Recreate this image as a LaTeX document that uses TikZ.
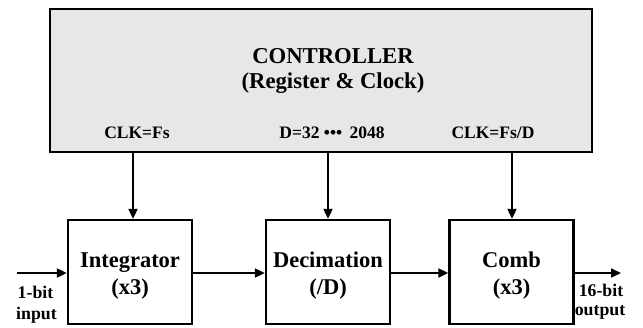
\documentclass[tikz,border=0pt]{standalone}
\usepackage{fontspec}
\setmainfont{Liberation Serif}
\usetikzlibrary{arrows.meta}
\definecolor{ctrlgray}{HTML}{E7E7E7}
\begin{document}
\begin{tikzpicture}[x=1pt,y=-1pt,
  font=\bfseries,
  blockbox/.style={draw,line width=2.3pt,minimum width=124pt,minimum height=104pt,inner sep=0pt},
  blocktext/.style={anchor=base,inner sep=0pt,font=\bfseries\fontsize{22.5}{28}\selectfont},
  ctrltext/.style={anchor=base,inner sep=0pt,font=\bfseries\fontsize{22.7}{27}\selectfont},
  sigtext/.style={anchor=base,inner sep=0pt,font=\bfseries\fontsize{17.5}{20}\selectfont},
  iotext/.style={anchor=base,inner sep=0pt,font=\bfseries\fontsize{17.8}{20}\selectfont},
  flow/.style={line width=1.9pt,-{Triangle[length=10pt,width=9pt]}}]
  \useasboundingbox (0,0) rectangle (643,327);

  % controller block
  \node[draw,fill=ctrlgray,line width=2.3pt,minimum width=542pt,minimum height=143pt,inner sep=0pt]
    (ctrl) at (321,80.5) {};
  \node[ctrltext] (ctrltitle) at (333,63) {CONTROLLER};
  \node[ctrltext] (ctrlsub) at (333,88) {(Register \& Clock)};
  \node[sigtext] (clkfs) at (137,138) {CLK=Fs};
  \node[sigtext] (dval) at (332,138) {D=32 ••• \,2048};
  \node[sigtext] (clkfsd) at (493,138) {CLK=Fs/D};

  % processing chain
  \node[blockbox] (integ) at (130,272) {};
  \node[blockbox] (decim) at (328,272) {};
  \node[blockbox] (comb) at (511.5,272) {};
  \node[blocktext] (integA) at (130,267) {Integrator};
  \node[blocktext] (integB) at (130,294) {(x3)};
  \node[blocktext] (decimA) at (328,267) {Decimation};
  \node[blocktext] (decimB) at (328,294) {(/D)};
  \node[blocktext] (combA) at (511.5,267) {Comb};
  \node[blocktext] (combB) at (511.5,294) {(x3)};

  % clock and ratio lines
  \draw[flow] (ctrl.south -| 133,0) -- (integ.north -| 133,0);
  \draw[flow] (ctrl.south -| 328,0) -- (decim.north -| 328,0);
  \draw[flow] (ctrl.south -| 512,0) -- (comb.north -| 512,0);

  % data path
  \coordinate (in) at (17,273);
  \coordinate (out) at (621,273);
  \draw[flow] (in) -- (integ.west |- in);
  \draw[flow] (integ.east |- in) -- (decim.west |- in);
  \draw[flow] (decim.east |- in) -- (comb.west |- in);
  \draw[flow] (comb.east |- out) -- (out);

  \node[iotext] (inA) at (35.5,298) {1-bit};
  \node[iotext] (inB) at (36.5,319) {input};
  \node[iotext] (outA) at (601,296) {16-bit};
  \node[iotext] (outB) at (600,315) {output};
\end{tikzpicture}
\end{document}
